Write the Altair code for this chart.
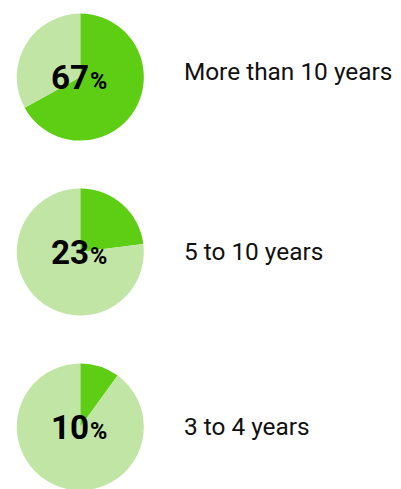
import altair as alt
import pandas as pd

categories = ["More than 10 years", "5 to 10 years", "3 to 4 years"]
values = [67, 23, 10]

DARK = "#5ECE14"
LIGHT = "#C1E5A5"
NUM_FONT = "Roboto, 'Liberation Sans', sans-serif"
LABEL_FONT = "Roboto, Inter, 'Noto Sans', sans-serif"

CX, R = 74, 65
centers = [64, 243, 422]
label_dy = [-5, 0, 0]

layers = []
for i, (cat, v) in enumerate(zip(categories, values)):
    cy = centers[i]
    arc_df = pd.DataFrame({
        "part": ["share", "rest"],
        "value": [v, 100 - v],
        "order": [0, 1],
    })
    txt_df = pd.DataFrame({"num": [str(v)], "pct": ["%"], "label": [cat]})

    arc = alt.Chart(arc_df).mark_arc(radius=R).encode(
        theta=alt.Theta("value:Q", stack=True),
        color=alt.Color("part:N", scale=alt.Scale(domain=["share", "rest"], range=[DARK, LIGHT]), legend=None),
        order=alt.Order("order:Q"),
        x=alt.value(CX),
        y=alt.value(cy),
    )
    num = alt.Chart(txt_df).mark_text(
        font=NUM_FONT, fontWeight="bold", fontSize=34, align="right", baseline="alphabetic", color="#000000"
    ).encode(text="num:N", x=alt.value(CX + 9), y=alt.value(cy + 12))
    pct = alt.Chart(txt_df).mark_text(
        font=NUM_FONT, fontWeight="bold", fontSize=24, align="left", baseline="alphabetic", color="#000000"
    ).encode(text="pct:N", x=alt.value(CX + 10), y=alt.value(cy + 12))
    lab = alt.Chart(txt_df).mark_text(
        font=LABEL_FONT, fontSize=25, align="left", baseline="middle", color="#111111"
    ).encode(text="label:N", x=alt.value(180), y=alt.value(cy + label_dy[i]))
    layers += [arc, num, pct, lab]

chart = (
    alt.layer(*layers)
    .resolve_scale(color="independent", theta="independent")
    .properties(width=390, height=480, padding=0)
    .configure_view(stroke=None)
)

chart.save("out.html", embed_options={"renderer": "svg", "actions": False})
